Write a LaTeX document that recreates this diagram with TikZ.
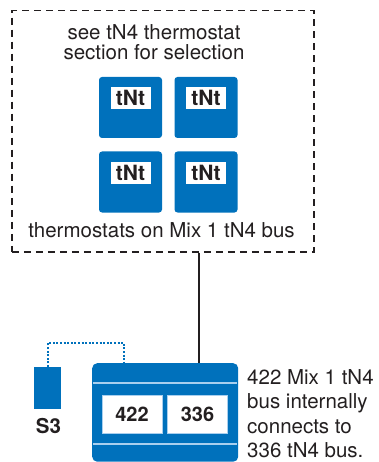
\documentclass[tikz,border=0pt]{standalone}
\usepackage{fontspec}
\setmainfont{TeX Gyre Heros}
\definecolor{tblue}{HTML}{0071BC}
\definecolor{tline}{HTML}{A9CFEE}
\definecolor{tgray}{HTML}{231F20}
\begin{document}
\begin{tikzpicture}[x=1pt,y=-1pt,
  txt/.style={font=\fontsize{20.5}{20}\selectfont, text=tgray, inner sep=0pt},
  therm/.style={fill=tblue, rounded corners=3pt, minimum width=63pt, minimum height=61pt, inner sep=0pt},
  tlabel/.style={fill=white, minimum width=40pt, minimum height=22pt, inner sep=0pt, font=\fontsize{21}{21}\selectfont\bfseries, text=tgray},
  dlabel/.style={fill=white, draw=tline, line width=0.6pt, minimum width=60pt, minimum height=38pt, inner sep=0pt, font=\fontsize{20}{20}\selectfont\bfseries, text=tgray},
  groupbox/.style={draw=tgray, dash pattern=on 7pt off 5pt, line width=1.5pt},
  bus/.style={draw=tgray, line width=2pt},
  sensorwire/.style={draw=tblue, line width=1.1pt, dash pattern=on 2pt off 1.6pt}
]
\useasboundingbox (0,0) rectangle (378,462);
% dashed group box
\node[groupbox, minimum width=302pt, minimum height=241pt, anchor=north west, inner sep=0pt] (group) at (11,10) {};
\node[txt, align=center, anchor=base] (seetxt) at (154,60) {see tN4 thermostat\\section for selection};
\node[txt, anchor=base] (ontxt) at (161.5,237) {thermostats on Mix 1 tN4 bus};
% thermostats
\node[therm] (t1) at (130.5,107.5) {};
\node[therm] (t2) at (206,107.5) {};
\node[therm] (t3) at (130.5,182) {};
\node[therm] (t4) at (206,182) {};
\node[tlabel] (l1) at (130.5,98) {tNt};
\node[tlabel] (l2) at (206,98) {tNt};
\node[tlabel] (l3) at (130.5,173) {tNt};
\node[tlabel] (l4) at (206,173) {tNt};
% device
\node[fill=tblue, rounded corners=5pt, minimum width=146pt, minimum height=98.5pt, inner sep=0pt, anchor=north west] (dev) at (92,363) {};
\coordinate (dl1) at (93,383);
\coordinate (dr1) at (237,383);
\coordinate (dl2) at (93,444);
\coordinate (dr2) at (237,444);
\draw[tline, line width=1.2pt] (dl1) -- (dr1);
\draw[tline, line width=1.2pt] (dl2) -- (dr2);
\node[dlabel] (d422) at (132,414) {422};
\node[dlabel] (d336) at (197.5,414) {336};
% bus wire
\draw[bus] (group.south -| 199,0) -- (dev.north -| 199,0);
% sensor
\node[fill=tblue, minimum width=27pt, minimum height=42pt, inner sep=0pt, anchor=north west] (s3) at (34,367) {};
\node[font=\fontsize{20.5}{20}\selectfont\bfseries, text=tgray, inner sep=0pt, anchor=base] (s3l) at (48.5,433) {S3};
\coordinate (w1) at (48,343);
\coordinate (w2) at (124,343);
\draw[sensorwire] (s3.north -| w1) -- (w1) -- (w2) -- (dev.north -| w2);
% side note
\node[txt, font=\fontsize{20.5}{24.5}\selectfont, align=left, anchor=base west] (note) at (247,457.5) {422 Mix 1 tN4\\bus internally\\connects to\\336 tN4 bus.};
\end{tikzpicture}
\end{document}
